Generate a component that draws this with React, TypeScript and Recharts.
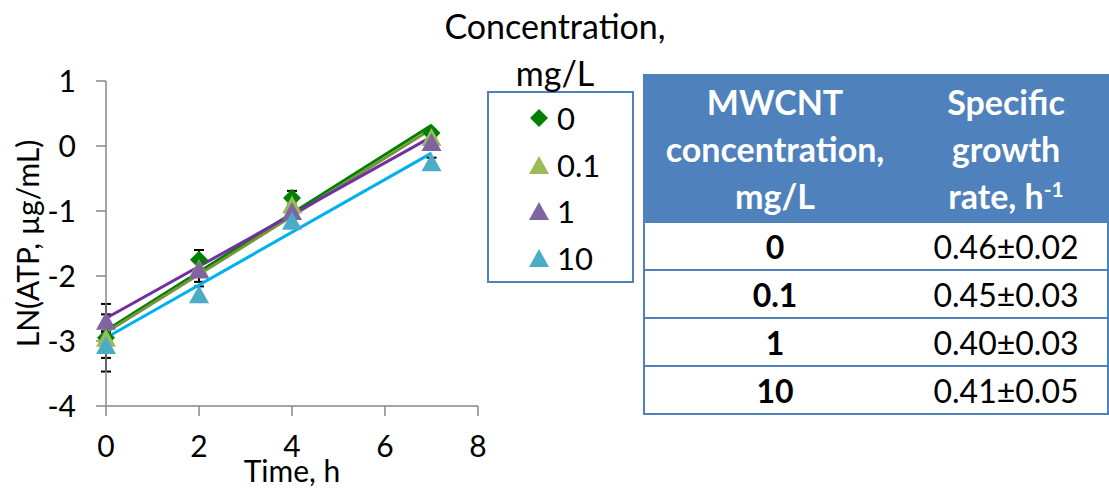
import React from 'react'
import { ComposedChart, Scatter, Line, XAxis, YAxis, ErrorBar, Label } from 'recharts'

const times = [0, 2, 4, 7]
const concLabels = ['0', '0.1', '1', '10']

const atp0 = [-2.95, -1.75, -0.8, 0.2]
const err0 = [0.52, 0.15, 0.11, 0.05]
const atp01 = [-2.95, -1.88, -0.9, 0.14]
const err01 = [0.1, 0.1, 0.08, 0.05]
const atp1 = [-2.69, -1.9, -1.0, 0.06]
const err1 = [0.1, 0.19, 0.1, 0.05]
const atp10 = [-3.06, -2.28, -1.15, -0.25]
const err10 = [0.2, 0.12, 0.11, 0.07]

// linear trendlines at t=0 and t=7
const trendTimes = [0, 7]
const trendStart = [-2.84, -2.87, -2.65, -2.95]
const trendEnd = [0.32, 0.26, 0.14, -0.11]

const xTicks = [0, 2, 4, 6, 8]
const yTicks = [-4, -3, -2, -1, 0, 1]

const rates = ['0.46±0.02', '0.45±0.03', '0.40±0.03', '0.41±0.05']

const MARKER = ['#008000', '#9BBB59', '#8064A2', '#4BACC6']
const TREND = ['#008000', '#77933C', '#7030A0', '#00B0F0']
const SHAPE = ['diamond', 'triangle', 'triangle', 'triangle']
const BLUE = '#4F81BD'
const FONT = 'Lato, "Open Sans", sans-serif'

const seriesVals = [atp0, atp01, atp1, atp10]
const seriesErr = [err0, err01, err1, err10]

const Marker = ({ cx, cy, kind, color }: any) => {
  if (cx == null || cy == null) return null
  if (kind === 'diamond') {
    const s = 9
    return <polygon points={`${cx},${cy - s} ${cx + s},${cy} ${cx},${cy + s} ${cx - s},${cy}`} fill={color} />
  }
  return <polygon points={`${cx},${cy - 9} ${cx + 10},${cy + 9} ${cx - 10},${cy + 9}`} fill={color} />
}

const LegendBox = () => (
  <div style={{ position: 'absolute', left: 440, top: 0, fontFamily: FONT, color: '#000', width: 230 }}>
    <div style={{ textAlign: 'center', fontSize: 34, lineHeight: '47px', marginTop: 2 }}>
      Concentration,<br />mg/L
    </div>
    <div style={{ marginLeft: 47, marginTop: -5, width: 143, height: 186, border: `2px solid ${BLUE}`, boxSizing: 'content-box', paddingTop: 2 }}>
      {concLabels.map((c, i) => (
        <div key={c} style={{ display: 'flex', alignItems: 'center', height: 46.5 }}>
          <svg width={70} height={30}>
            <Marker cx={50} cy={15} kind={SHAPE[i]} color={MARKER[i]} />
          </svg>
          <span style={{ fontSize: 31, marginLeft: -2 }}>{c}</span>
        </div>
      ))}
    </div>
  </div>
)

const cell: React.CSSProperties = { textAlign: 'center', padding: 0, height: 46, borderTop: `2px solid ${BLUE}` }
const tickStyle = { fill: '#000', fontSize: 30, fontFamily: FONT }

const pointsOf = (i: number) => times.map((t, j) => ({ t, v: seriesVals[i][j], e: seriesErr[i][j] }))

export default function App() {
  return (
    <div style={{ position: 'absolute', left: 0, top: 0, width: 1109, height: 488, background: '#fff', fontFamily: FONT }}>
      <ComposedChart width={640} height={488} margin={{ top: 81, right: 162, bottom: 0, left: 0 }}>
        <XAxis
          type="number"
          dataKey="t"
          domain={[0, 8]}
          ticks={xTicks}
          height={82}
          tickSize={10}
          tickMargin={20}
          stroke="#868686"
          strokeWidth={1.5}
          tick={tickStyle}
        >
          <Label value="Time, h" position="insideBottom" offset={6} style={tickStyle} />
        </XAxis>
        <YAxis
          type="number"
          domain={[-4, 1]}
          ticks={yTicks}
          width={106}
          tickSize={10}
          tickMargin={20}
          stroke="#868686"
          strokeWidth={1.5}
          tick={tickStyle}
        >
          <Label
            value="LN(ATP, µg/mL)"
            angle={-90}
            position="insideLeft"
            offset={28}
            style={{ ...tickStyle, textAnchor: 'middle' }}
          />
        </YAxis>
        {/* error bars first so the markers sit on top of them */}
        {concLabels.map((c, i) => (
          <Scatter
            key={'e' + c}
            data={pointsOf(i)}
            dataKey="v"
            shape={() => <g />}
            isAnimationActive={false}
          >
            <ErrorBar dataKey="e" direction="y" width={5} stroke="#000" strokeWidth={2} />
          </Scatter>
        ))}
        {concLabels.map((c, i) => (
          <Scatter
            key={'s' + c}
            name={c}
            data={pointsOf(i)}
            dataKey="v"
            fill={MARKER[i]}
            shape={(p: any) => <Marker cx={p.cx} cy={p.cy} kind={SHAPE[i]} color={MARKER[i]} />}
            isAnimationActive={false}
          />
        ))}
        {concLabels.map((c, i) => (
          <Line
            key={'l' + c}
            data={trendTimes.map((t, j) => ({ t, v: j === 0 ? trendStart[i] : trendEnd[i] }))}
            dataKey="v"
            stroke={TREND[i]}
            strokeWidth={3}
            dot={false}
            isAnimationActive={false}
          />
        ))}
      </ComposedChart>

      <LegendBox />

      <table
        style={{
          position: 'absolute',
          left: 643,
          top: 74,
          width: 466,
          borderCollapse: 'collapse',
          border: `2px solid ${BLUE}`,
          fontFamily: FONT,
          color: '#000',
        }}
      >
        <thead>
          <tr style={{ background: BLUE, color: '#fff', fontWeight: 700, fontSize: 34, lineHeight: '47px' }}>
            <th style={{ width: 260, height: 145, padding: 0, fontWeight: 700 }}>
              MWCNT<br />concentration,<br />mg/L
            </th>
            <th style={{ padding: 0, fontWeight: 700 }}>
              Specific<br />growth<br />rate, h<sup style={{ fontSize: 21, lineHeight: 0 }}>-1</sup>
            </th>
          </tr>
        </thead>
        <tbody>
          {concLabels.map((c, i) => (
            <tr key={c} style={{ fontSize: 32 }}>
              <td style={{ ...cell, fontWeight: 700 }}>{c}</td>
              <td style={cell}>{rates[i]}</td>
            </tr>
          ))}
        </tbody>
      </table>
    </div>
  )
}
